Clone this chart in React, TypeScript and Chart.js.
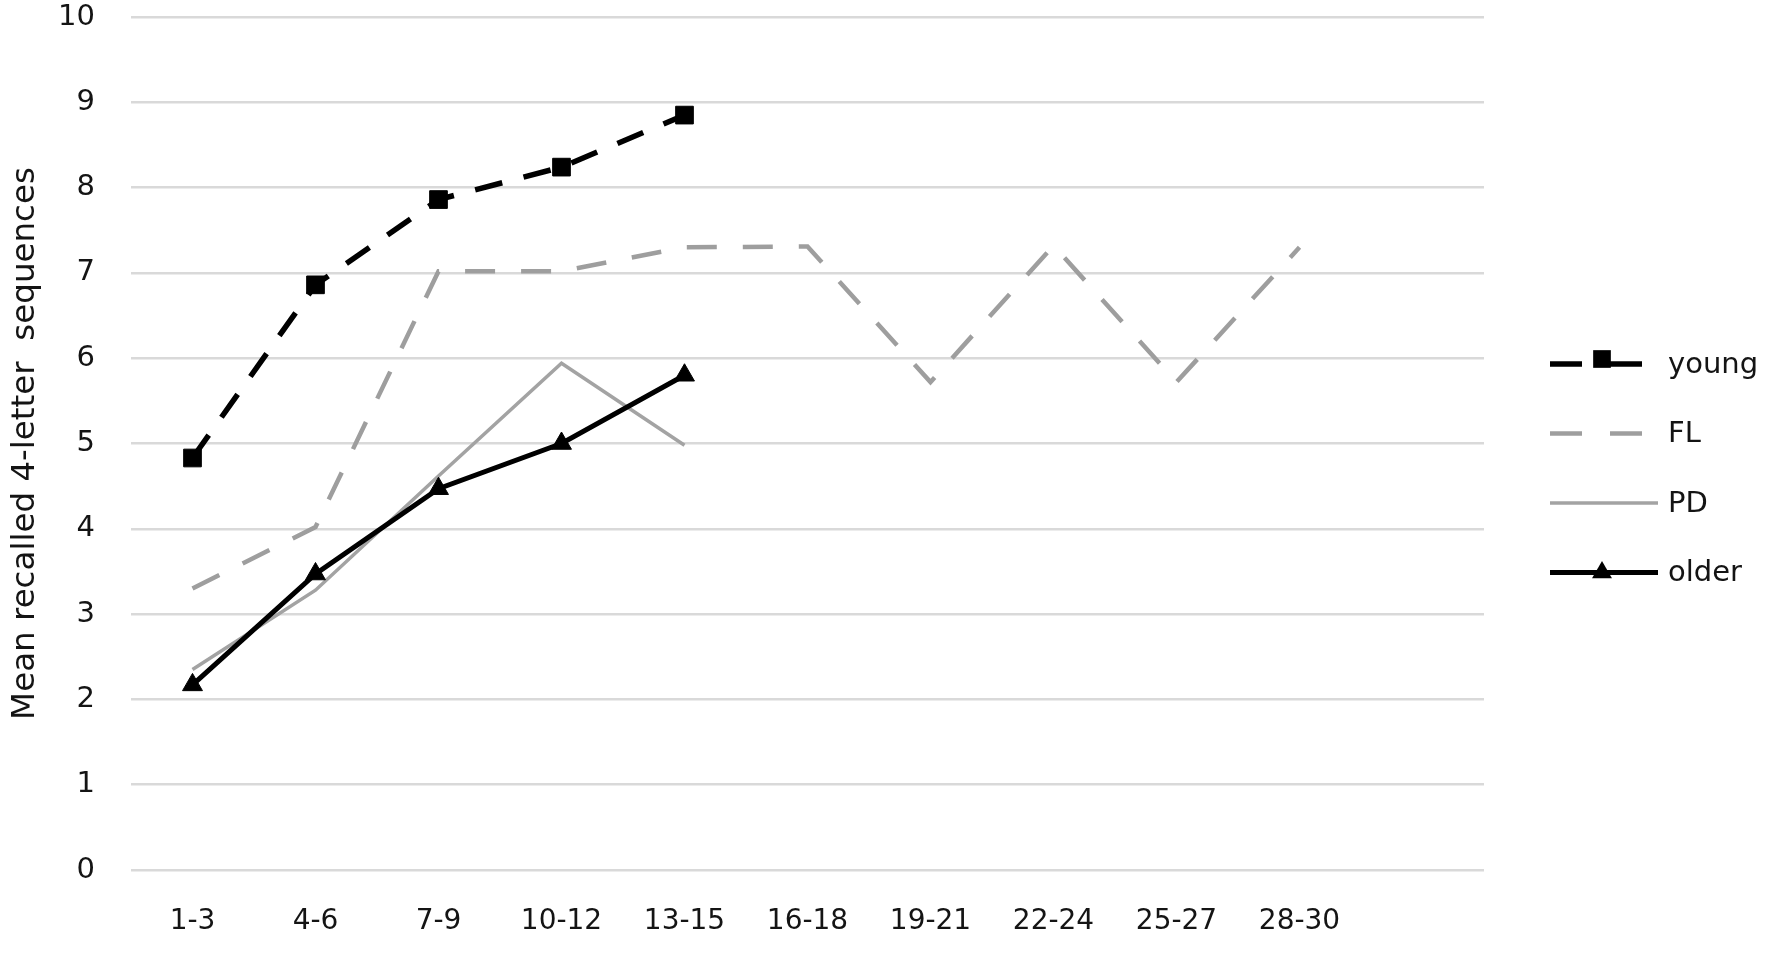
import React, { useEffect, useRef } from "react";
import { Chart, registerables } from "chart.js";

Chart.register(...registerables);

const categories = ["1-3", "4-6", "7-9", "10-12", "13-15", "16-18", "19-21", "22-24", "25-27", "28-30", ""];
const young = [4.83, 6.86, 7.86, 8.24, 8.85];
const fl = [3.3, 4.02, 7.02, 7.02, 7.3, 7.31, 5.72, 7.32, 5.72, 7.3];
const pd = [2.35, 3.28, 4.62, 5.94, 4.98];
const older = [2.17, 3.47, 4.47, 5.0, 5.8];
const seriesNames = ["young", "FL", "PD", "older"];
const yMin = 0;
const yMax = 10;
const yStep = 1;
const yTitle = "Mean recalled 4-letter  sequences";

const FONT = "'DejaVu Sans', sans-serif";

const sideLegend = {
  id: "sideLegend",
  afterDraw(chart: any) {
    const ctx = chart.ctx as CanvasRenderingContext2D;
    const x0 = 1550;
    const x1 = 1658;
    const textX = 1668;
    const startY = 364;
    const step = 69.5;
    chart.data.datasets.forEach((ds: any, i: number) => {
      const y = startY + i * step;
      ctx.save();
      ctx.strokeStyle = ds.borderColor;
      ctx.lineWidth = ds.borderWidth;
      ctx.setLineDash(ds.borderDash ? [32, 28] : []);
      ctx.beginPath();
      ctx.moveTo(x0, y);
      ctx.lineTo(x1, y);
      ctx.stroke();
      ctx.setLineDash([]);
      const cx = (x0 + x1) / 2 - 2;
      if (ds.pointStyle === "rect" && ds.pointRadius > 0) {
        const s = Math.SQRT1_2 * ds.pointRadius;
        ctx.fillStyle = ds.pointBackgroundColor;
        ctx.fillRect(cx - s, y - s - 5, 2 * s, 2 * s);
      } else if (ds.pointStyle === "triangle" && ds.pointRadius > 0) {
        const r = ds.pointRadius;
        ctx.fillStyle = ds.pointBackgroundColor;
        ctx.beginPath();
        ctx.moveTo(cx, y - r);
        ctx.lineTo(cx + r * Math.sin(Math.PI * 2 / 3), y + r / 2);
        ctx.lineTo(cx - r * Math.sin(Math.PI * 2 / 3), y + r / 2);
        ctx.closePath();
        ctx.fill();
      }
      ctx.fillStyle = "#141414";
      ctx.font = `29px ${FONT}`;
      ctx.textAlign = "left";
      ctx.textBaseline = "middle";
      ctx.fillText(ds.label, textX, y + 1);
      ctx.restore();
    });
  },
};

export default function App() {
  const canvasRef = useRef<HTMLCanvasElement | null>(null);

  useEffect(() => {
    if (!canvasRef.current) return;
    const chart = new Chart(canvasRef.current, {
      type: "line",
      data: {
        labels: categories,
        datasets: [
          {
            label: seriesNames[0],
            data: young,
            borderColor: "#000000",
            backgroundColor: "#000000",
            borderWidth: 5.5,
            borderDash: [28, 22],
            pointStyle: "rect",
            pointRadius: 12.5,
            pointBackgroundColor: "#000000",
            pointBorderColor: "#000000",
            pointBorderWidth: 1,
            order: 3,
            tension: 0,
          },
          {
            label: seriesNames[1],
            data: fl,
            borderColor: "#9e9e9e",
            backgroundColor: "#9e9e9e",
            borderWidth: 4.5,
            borderDash: [30, 26],
            pointRadius: 0,
            pointStyle: false as any,
            order: 2,
            tension: 0,
          },
          {
            label: seriesNames[2],
            data: pd,
            borderColor: "#a3a3a3",
            backgroundColor: "#a3a3a3",
            borderWidth: 3.5,
            pointRadius: 0,
            pointStyle: false as any,
            order: 1,
            tension: 0,
          },
          {
            label: seriesNames[3],
            data: older,
            borderColor: "#000000",
            backgroundColor: "#000000",
            borderWidth: 5,
            pointStyle: "triangle",
            pointRadius: 11.5,
            pointBackgroundColor: "#000000",
            pointBorderColor: "#000000",
            pointBorderWidth: 1,
            order: 0,
            tension: 0,
          },
        ],
      },
      options: {
        animation: false,
        responsive: true,
        maintainAspectRatio: false,
        layout: { padding: { top: 17, right: 292, left: 0, bottom: 0 } },
        plugins: {
          legend: { display: false },
          tooltip: { enabled: false },
        },
        scales: {
          x: {
            type: "category",
            offset: true,
            grid: { display: false, drawTicks: false },
            border: { display: false },
            ticks: {
              color: "#141414",
              font: { family: FONT, size: 28 },
              padding: 35,
              maxRotation: 0,
              autoSkip: false,
            },
            afterFit: (s: any) => {
              s.height = 83;
              s.paddingLeft = 0;
              s.paddingRight = 0;
            },
          },
          y: {
            min: yMin,
            max: yMax,
            grid: { color: "#d9d9d9", lineWidth: 2.5, drawTicks: false },
            border: { display: false },
            ticks: {
              stepSize: yStep,
              color: "#141414",
              font: { family: FONT, size: 29 },
              padding: 36,
            },
            title: {
              display: true,
              text: yTitle,
              color: "#141414",
              font: { family: FONT, size: 32.5 },
              padding: { top: 6, bottom: 0 },
            },
            afterFit: (s: any) => {
              s.width = 131;
              s.paddingTop = 0;
              s.paddingBottom = 0;
            },
          },
        },
      },
      plugins: [sideLegend],
    });
    return () => chart.destroy();
  }, []);

  return (
    <div style={{ position: "fixed", left: 0, top: 0, width: 1776, height: 953, background: "#ffffff" }}>
      <canvas ref={canvasRef} />
    </div>
  );
}
